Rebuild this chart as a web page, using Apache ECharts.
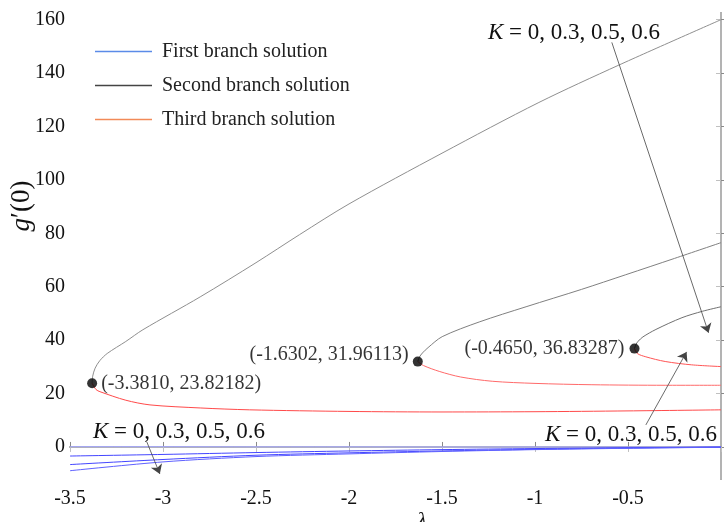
<!DOCTYPE html>
<html>
<head>
<meta charset="utf-8">
<script src="https://cdn.jsdelivr.net/npm/echarts@6/dist/echarts.min.js"></script>
<style>
html, body { margin: 0; background: #fff; }
#chart { width: 724px; height: 522px; }
</style>
</head>
<body>
<div id="chart"></div>
<script>
// axis ticks
var xTicks = [-3.5, -3, -2.5, -2, -1.5, -1, -0.5];
var yTicks = [0, 20, 40, 60, 80, 100, 120, 140, 160];

// first branch (blue), K = 0, 0.3, 0.5, 0.6
var firstLam  = [-3.5, -3, -2.5, -2, -1.5, -1, -0.5, 0];
var firstK0   = [0.1, 0.1, 0.05, 0.05, 0, 0, 0, 0];
var firstK03  = [-3.4, -2.8, -2.1, -1.5, -1.0, -0.6, -0.3, -0.05];
var firstK05  = [-6.6, -4.7, -3.1, -2.2, -1.5, -0.9, -0.4, -0.1];
var firstK06  = [-8.9, -5.6, -3.6, -2.6, -1.7, -1.0, -0.5, -0.1];

// second branch (gray)
var secondLamK0  = [-3.381, -3.378, -3.365, -3.34, -3.3, -3.2, -3.108, -2.8, -2.5, -2.266, -2.0, -1.5, -0.979, -0.549, 0];
var secondValK0  = [23.82, 26.5, 29.5, 32.3, 35, 39.5, 43.9, 56.2, 69, 79.5, 91, 110, 129, 143, 160];
var secondLamK03 = [-1.6302, -1.622, -1.605, -1.575, -1.499, -1.3, -1.048, -0.75, -0.512, -0.25, 0];
var secondValK03 = [31.96, 33.6, 35.2, 37.2, 41.3, 46.8, 52.5, 59, 64.5, 70.6, 76.5];
var secondLamK05 = [-0.465, -0.458, -0.445, -0.42, -0.35, -0.21, -0.1, 0];
var secondValK05 = [36.83, 38.3, 39.6, 41.2, 44, 48.4, 50.8, 52.5];

// third branch (red)
var thirdLamK0  = [-3.381, -3.36, -3.339, -3.2, -3.07, -2.8, -2.534, -2.0, -1.5, -1.0, -0.5, 0];
var thirdValK0  = [23.82, 21.5, 20.7, 17.5, 15.75, 14.6, 13.9, 13.3, 13.1, 13.2, 13.5, 13.9];
var thirdLamK03 = [-1.6302, -1.6, -1.515, -1.4, -1.23, -1.0, -0.694, -0.3, 0];
var thirdValK03 = [31.96, 30.5, 28.3, 26.2, 24.6, 23.8, 23.3, 23.1, 23.1];
var thirdLamK05 = [-0.465, -0.45, -0.404, -0.3, -0.158, 0];
var thirdValK05 = [36.83, 35, 33.75, 32, 30.75, 30.1];

// turning points
var turnLam = [-3.3810, -1.6302, -0.4650];
var turnVal = [23.82182, 31.96113, 36.83287];

// annotation arrows (data units)
var arrowFrom = [[-0.587, 151.5], [-3.087, 1.9], [-0.404, 8.25]];
var arrowTo   = [[-0.067, 42.75], [-3.017, -10.1], [-0.185, 35.6]];

var FONT = 'Liberation Serif';

function zip(a, b) {
  var out = [];
  for (var i = 0; i < a.length; i++) out.push([a[i], b[i]]);
  return out;
}

function curve(name, lam, val, color) {
  return {
    name: name,
    type: 'line',
    smooth: 0.3,
    symbol: 'none',
    silent: true,
    lineStyle: { color: color, width: 1 },
    itemStyle: { color: color },
    data: zip(lam, val)
  };
}

var series = [
  curve('First branch solution', firstLam, firstK0, '#a3a5ff'),
  curve('First branch solution', firstLam, firstK03, '#4446ff'),
  curve('First branch solution', firstLam, firstK05, '#4446ff'),
  curve('First branch solution', firstLam, firstK06, '#5f61ff'),
  curve('Second branch solution', secondLamK0, secondValK0, '#8f8f8f'),
  curve('Second branch solution', secondLamK03, secondValK03, '#808080'),
  curve('Second branch solution', secondLamK05, secondValK05, '#707070'),
  curve('Third branch solution', thirdLamK0, thirdValK0, '#ff4a4a'),
  curve('Third branch solution', thirdLamK03, thirdValK03, '#ff6a6a'),
  curve('Third branch solution', thirdLamK05, thirdValK05, '#ff5555')
];

var labelPos = ['right', 'left', 'left'];
var labelOff = [[0, 0], [0, -7], [-1, 0]];
var turnData = [];
for (var i = 0; i < turnLam.length; i++) {
  turnData.push({
    value: [turnLam[i], turnVal[i]],
    label: { position: labelPos[i], offset: labelOff[i], distance: 4 }
  });
}

var arrowData = [];
for (var j = 0; j < arrowFrom.length; j++) {
  arrowData.push({ coords: [arrowFrom[j], arrowTo[j]] });
}

series.push({
  type: 'lines',
  coordinateSystem: 'cartesian2d',
  silent: true,
  symbol: ['none', 'arrow'],
  symbolSize: 9,
  lineStyle: { color: '#444', width: 0.8, opacity: 1 },
  itemStyle: { color: '#222' },
  data: arrowData,
  z: 4
});

series.push({
  type: 'scatter',
  symbol: 'circle',
  symbolSize: 10,
  silent: true,
  itemStyle: { color: '#000' },
  label: {
    show: true,
    fontFamily: FONT,
    fontSize: 20,
    color: '#000',
    formatter: function (p) {
      return '(' + p.value[0].toFixed(4) + ', ' + p.value[1].toFixed(5) + ')';
    }
  },
  emphasis: { disabled: true },
  data: turnData,
  z: 5
});

var kText = '{k|K} = 0, 0.3, 0.5, 0.6';
var kRich = { k: { fontStyle: 'italic', fontFamily: FONT, fontSize: 23, fill: '#111' } };
var kFont = '23px "Liberation Serif"';

var option = {
  animation: false,
  backgroundColor: '#fff',
  textStyle: { fontFamily: FONT },
  grid: {
    left: 70, right: 3, top: 13, bottom: 43,
    containLabel: false,
    outerBoundsMode: 'none'
  },
  legend: {
    orient: 'vertical',
    left: 95,
    top: 41,
    padding: 0,
    icon: 'rect',
    itemWidth: 57,
    itemHeight: 1.5,
    itemGap: 13,
    textStyle: { fontFamily: FONT, fontSize: 20, color: '#222', padding: [0, 0, 0, 5], lineHeight: 21 },
    data: [
      { name: 'First branch solution', itemStyle: { color: '#5b8be8' }, lineStyle: { color: '#5b8be8' } },
      { name: 'Second branch solution', itemStyle: { color: '#444' }, lineStyle: { color: '#444' } },
      { name: 'Third branch solution', itemStyle: { color: '#f28a58' }, lineStyle: { color: '#f28a58' } }
    ]
  },
  xAxis: [{
    type: 'value',
    min: -3.5, max: 0, interval: 0.5,
    axisLine: { lineStyle: { color: '#8a8a8a', width: 2 } },
    axisTick: { inside: true, length: 5, lineStyle: { color: '#8a8a8a' } },
    axisLabel: { showMaxLabel: false, fontFamily: FONT, fontSize: 20, color: '#111', margin: 10 },
    splitLine: { show: false }
  }, {
    type: 'value', position: 'top',
    min: -3.5, max: 0, interval: 0.5,
    axisLine: { lineStyle: { color: '#c0c0c0', width: 1.5 } },
    axisTick: { inside: true, length: 5, lineStyle: { color: '#c0c0c0' } },
    axisLabel: { show: false },
    splitLine: { show: false }
  }],
  yAxis: [{
    type: 'value',
    min: -12, max: 162.5,
    axisLine: { show: true, lineStyle: { color: '#8a8a8a', width: 2 } },
    axisTick: { show: true, inside: true, length: 5, customValues: yTicks, lineStyle: { color: '#8a8a8a' } },
    axisLabel: { customValues: yTicks, fontFamily: FONT, fontSize: 20, color: '#111', margin: 5, padding: [4, 0, 0, 0] },
    splitLine: { show: false }
  }, {
    type: 'value', position: 'right',
    min: -12, max: 162.5,
    axisLine: { show: true, lineStyle: { color: '#c0c0c0', width: 1.5 } },
    axisTick: { show: true, inside: true, length: 5, customValues: yTicks, lineStyle: { color: '#c0c0c0' } },
    axisLabel: { show: false },
    splitLine: { show: false }
  }],
  graphic: [
    { type: 'text', x: 488, y: 33, style: { text: kText, rich: kRich, font: kFont, fill: '#111', verticalAlign: 'middle' } },
    { type: 'text', x: 93, y: 432, style: { text: kText, rich: kRich, font: kFont, fill: '#111', verticalAlign: 'middle' } },
    { type: 'text', x: 545, y: 435, style: { text: kText, rich: kRich, font: kFont, fill: '#111', verticalAlign: 'middle' } },
    { type: 'text', x: 22, y: 206, rotation: Math.PI / 2,
      style: { text: '{g|g}′(0)', rich: { g: { fontStyle: 'italic', fontFamily: FONT, fontSize: 27, fill: '#111' } },
               font: '27px "Liberation Serif"', fill: '#111', align: 'center', verticalAlign: 'middle' } },
    { type: 'text', x: 422, y: 521,
      style: { text: 'λ', font: 'italic 22px "Liberation Serif"', fill: '#111', align: 'center', verticalAlign: 'middle' } }
  ],
  series: series
};

var myChart = echarts.init(document.getElementById('chart'));
myChart.setOption(option);
</script>
</body>
</html>
